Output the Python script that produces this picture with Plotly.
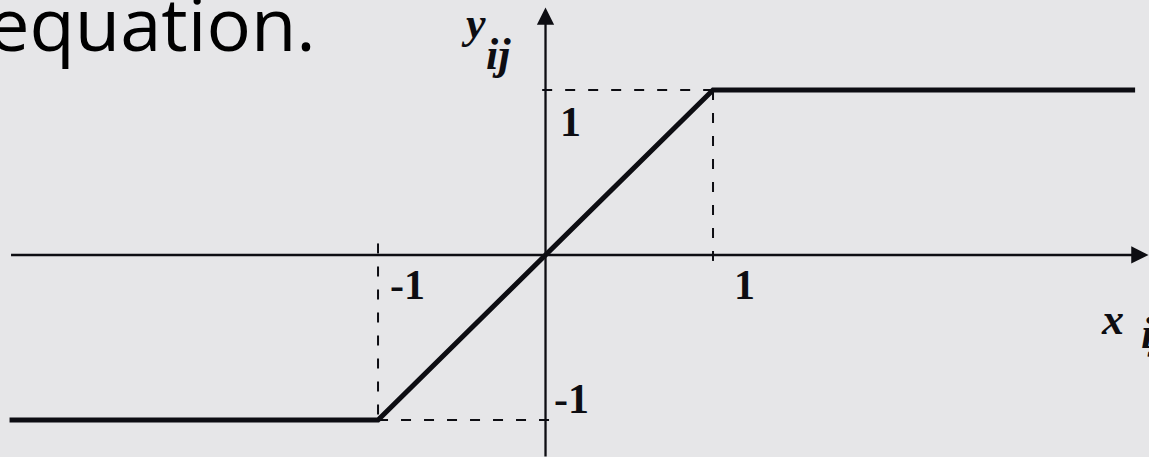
import plotly.graph_objects as go

# Saturating linear transfer function y = f(x)
x_fn = [-3.2, -1, 1, 3.52]
y_fn = [-1, -1, 1, 1]

# Axis extents (data units)
x_axis_from, x_axis_to = -3.2, 3.6
y_axis_from, y_axis_to = -1.23, 1.5

# Dashed guide segments marking the breakpoints
guides_x = [[-0.02, 1], [1, 1], [-1, -1], [-1, 0.07]]
guides_y = [[1, 1], [1, -0.04], [0.07, -1], [-1, -1]]

# Tick labels: text, x, y
tick_text = ["1", "1", "-1", "-1"]
tick_x = [0.152, 1.185, -0.827, 0.158]
tick_y = [0.806, -0.182, -0.182, -0.873]

# Axis names with subscripts
name_text = ["y", "ij", "x", "ij"]
name_x = [-0.433, -0.278, 3.388, 3.545]
name_y = [1.40, 1.215, -0.39, -0.475]

INK = "#0d0d12"
BG = "#e6e6e8"

fig = go.Figure()

for gx, gy in zip(guides_x, guides_y):
    fig.add_trace(go.Scatter(x=gx, y=gy, mode="lines",
                             line=dict(color=INK, width=2, dash="10px,13px"),
                             hoverinfo="skip", showlegend=False))

fig.add_trace(go.Scatter(x=x_fn, y=y_fn, mode="lines",
                         line=dict(color=INK, width=5),
                         hoverinfo="skip", showlegend=False))

# Coordinate axes drawn as arrows
fig.add_annotation(x=x_axis_to, y=0, ax=x_axis_from, ay=0,
                   xref="x", yref="y", axref="x", ayref="y", text="",
                   showarrow=True, arrowhead=2, arrowsize=1.5,
                   arrowwidth=2.3, arrowcolor=INK)
fig.add_annotation(x=0, y=y_axis_to, ax=0, ay=y_axis_from,
                   xref="x", yref="y", axref="x", ayref="y", text="",
                   showarrow=True, arrowhead=2, arrowsize=1.5,
                   arrowwidth=2.3, arrowcolor=INK)

for t, x, y in zip(tick_text, tick_x, tick_y):
    fig.add_annotation(x=x, y=y, xref="x", yref="y", text=f"<b>{t}</b>",
                       showarrow=False, xanchor="center", yanchor="middle",
                       font=dict(family="Liberation Serif", size=42, color=INK))

for t, x, y in zip(name_text, name_x, name_y):
    fig.add_annotation(x=x, y=y, xref="x", yref="y",
                       text=f"<b><i>{t}</i></b>", showarrow=False,
                       xanchor="center" if x < 3.5 else "left", yanchor="middle",
                       font=dict(family="Liberation Serif", size=44, color=INK))

# Trailing words of the slide sentence
fig.add_annotation(x=-14 / 1149, y=1.0, xref="paper", yref="paper",
                   text="equation.", showarrow=False,
                   xanchor="left", yanchor="top", yshift=30,
                   font=dict(family="Open Sans", size=74, color="#000000"))

fig.update_layout(
    width=1149, height=457,
    margin=dict(l=0, r=0, t=0, b=0),
    paper_bgcolor=BG, plot_bgcolor=BG,
    xaxis=dict(range=[-3.257, 3.603], visible=False, fixedrange=True),
    yaxis=dict(range=[-1.224, 1.545], visible=False, fixedrange=True),
)

fig.write_html("out.html")
